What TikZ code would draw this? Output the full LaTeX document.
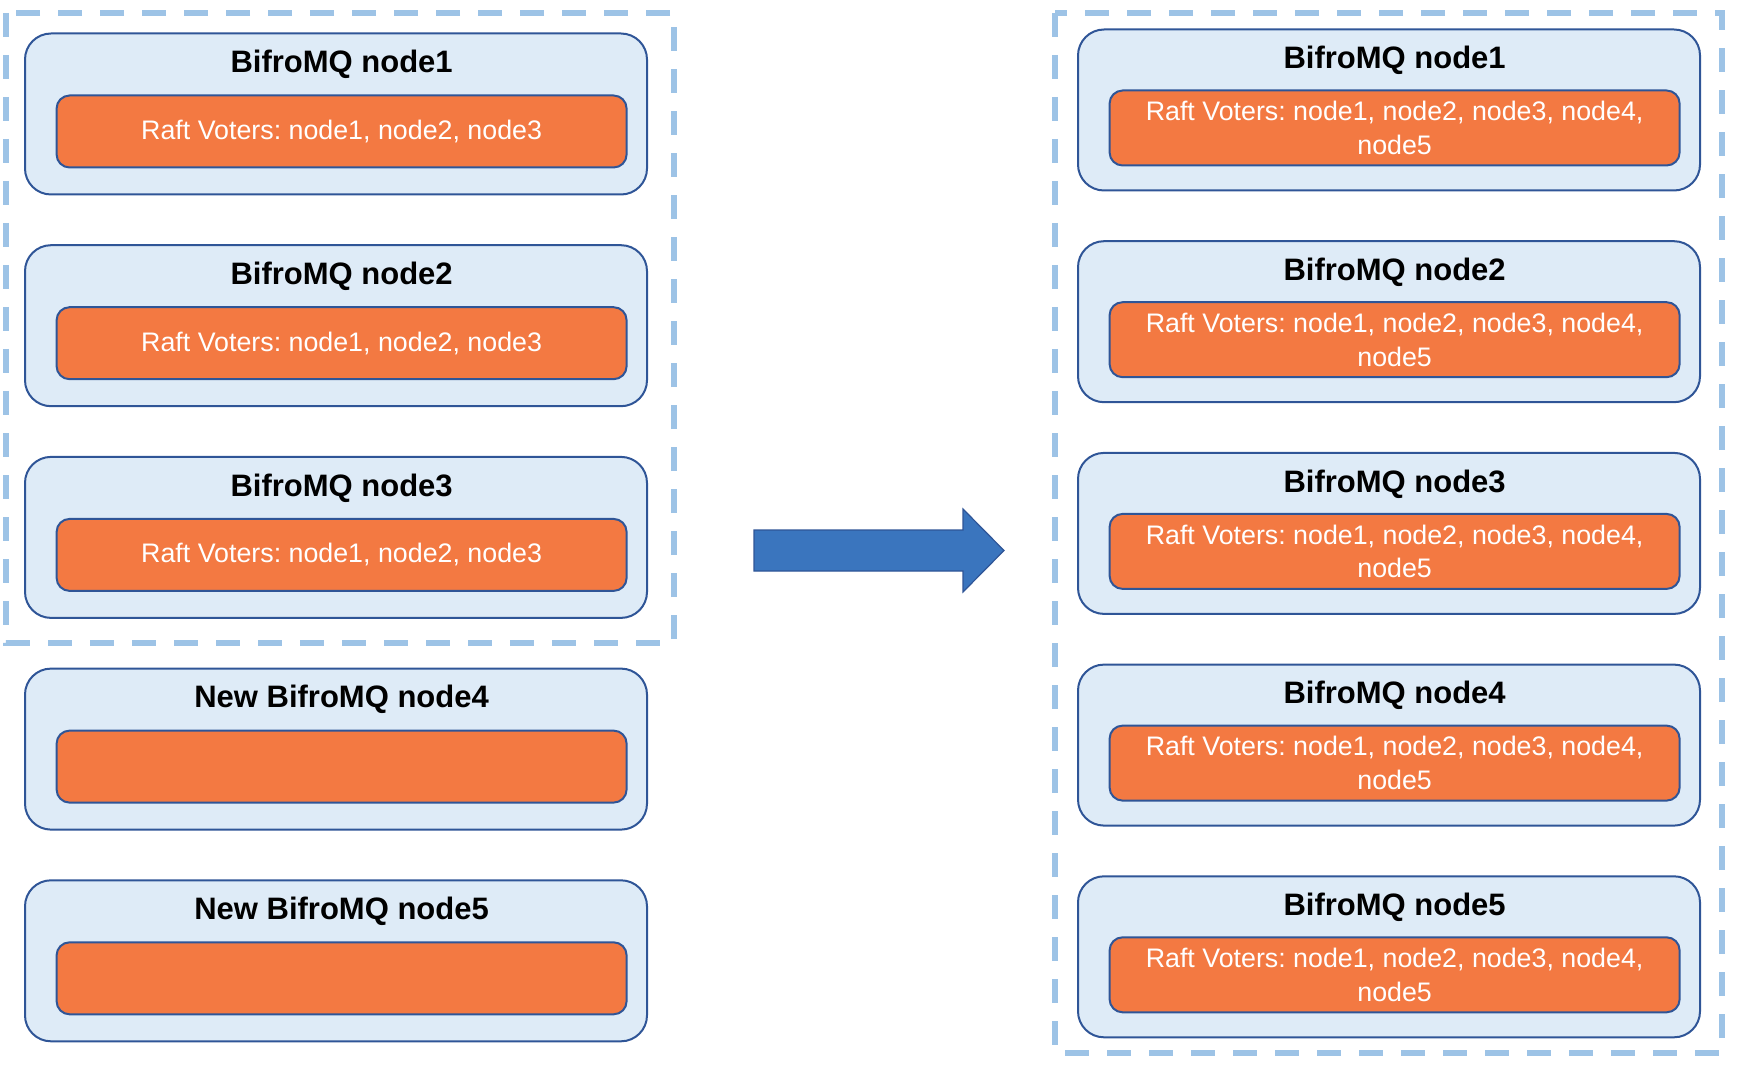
\documentclass[tikz,border=0pt]{standalone}
\usepackage{fontspec}
\setmainfont{Liberation Sans}
\usepackage{tikz}
\usetikzlibrary{positioning}
\definecolor{hostfill}{RGB}{222,235,247}
\definecolor{hostline}{RGB}{47,85,151}
\definecolor{votefill}{RGB}{243,121,66}
\definecolor{groupline}{RGB}{157,195,230}
\definecolor{arrowfill}{RGB}{58,117,190}
\frenchspacing

\begin{document}
\begin{tikzpicture}[x=0.5pt, y=-0.5pt, node distance=24.35pt,
        host/.style={draw=hostline, fill=hostfill, line width=1pt, rounded corners=13pt,
            minimum width=311pt, minimum height=80.5pt},
        hosttitle/.style={inner sep=0pt, xshift=2.8pt, font=\bfseries\fontsize{15.5}{18}\selectfont},
        voters/.style={draw=hostline, fill=votefill, line width=1pt, rounded corners=6.5pt,
            minimum width=285pt, minimum height=36pt, inner sep=0pt, xshift=2.8pt,
            text=white, align=center, font=\fontsize{13.4}{16.8}\selectfont},
        group/.style={draw=groupline, line width=3pt, dash pattern=on 12pt off 9pt}]
                \useasboundingbox (0,0) rectangle (1744,1069);

                \draw[group] (6,13) rectangle (674,643);
                \draw[group] (1055,13) rectangle (1722,1053);

                \node[host] (pre1) at (336,114) {};
                \node[host, below=of pre1] (pre2) {};
                \node[host, below=of pre2] (pre3) {};
                \node[host, below=of pre3] (pre4) {};
                \node[host, below=of pre4] (pre5) {};

                \node[hosttitle, below=8.7pt of pre1.north] (pre1t) {BifroMQ node1};
                \node[hosttitle, below=8.7pt of pre2.north] (pre2t) {BifroMQ node2};
                \node[hosttitle, below=8.7pt of pre3.north] (pre3t) {BifroMQ node3};
                \node[hosttitle, below=8.7pt of pre4.north] (pre4t) {New BifroMQ node4};
                \node[hosttitle, below=8.7pt of pre5.north] (pre5t) {New BifroMQ node5};

                \node[voters, below=31pt of pre1.north] (pre1v) {Raft Voters: node1, node2, node3};
                \node[voters, below=31pt of pre2.north] (pre2v) {Raft Voters: node1, node2, node3};
                \node[voters, below=31pt of pre3.north] (pre3v) {Raft Voters: node1, node2, node3};
                \node[voters, below=31pt of pre4.north] (pre4v) {};
                \node[voters, below=31pt of pre5.north] (pre5v) {};

                \fill[arrowfill, draw=hostline, line width=0.6pt]
                    (754,530) -- (963,530) -- (963,509) -- (1004,550.5)
                    -- (963,592) -- (963,571) -- (754,571) -- cycle;

                \node[host] (post1) at (1389,110) {};
                \node[host, below=of post1] (post2) {};
                \node[host, below=of post2] (post3) {};
                \node[host, below=of post3] (post4) {};
                \node[host, below=of post4] (post5) {};

                \node[hosttitle, below=8.7pt of post1.north] (post1t) {BifroMQ node1};
                \node[hosttitle, below=8.7pt of post2.north] (post2t) {BifroMQ node2};
                \node[hosttitle, below=8.7pt of post3.north] (post3t) {BifroMQ node3};
                \node[hosttitle, below=8.7pt of post4.north] (post4t) {BifroMQ node4};
                \node[hosttitle, below=8.7pt of post5.north] (post5t) {BifroMQ node5};

                \node[voters, minimum height=37.5pt, below=30.5pt of post1.north] (post1v) {Raft Voters: node1, node2, node3, node4,\\ node5};
                \node[voters, minimum height=37.5pt, below=30.5pt of post2.north] (post2v) {Raft Voters: node1, node2, node3, node4,\\ node5};
                \node[voters, minimum height=37.5pt, below=30.5pt of post3.north] (post3v) {Raft Voters: node1, node2, node3, node4,\\ node5};
                \node[voters, minimum height=37.5pt, below=30.5pt of post4.north] (post4v) {Raft Voters: node1, node2, node3, node4,\\ node5};
                \node[voters, minimum height=37.5pt, below=30.5pt of post5.north] (post5v) {Raft Voters: node1, node2, node3, node4,\\ node5};
            \end{tikzpicture}
\end{document}
